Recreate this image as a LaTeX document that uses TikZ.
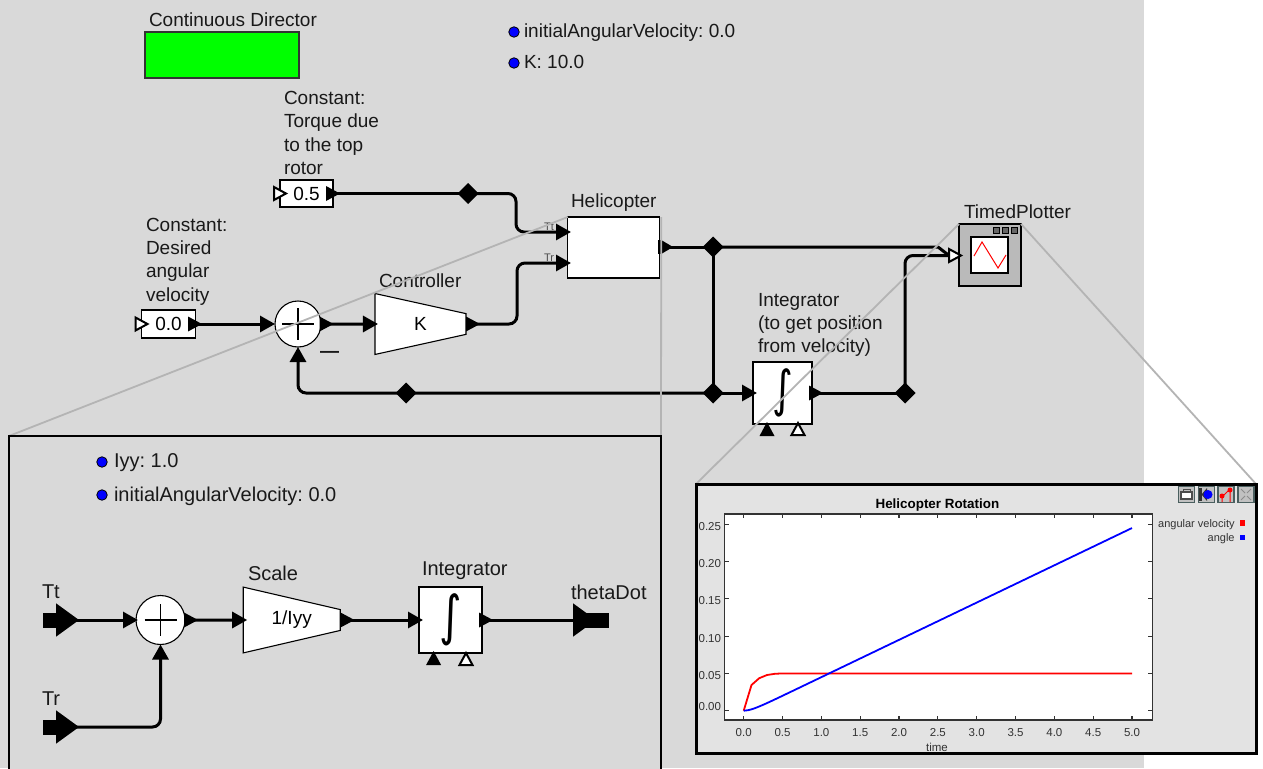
\documentclass[tikz,border=0pt]{standalone}
\usepackage{fontspec}
\setmainfont{Liberation Sans}
\newfontfamily\intfont{DejaVu Sans}
\usepackage{amsmath}
\usetikzlibrary{arrows.meta, positioning, shapes.geometric, calc}

\definecolor{canvasgray}{HTML}{D9D9D9}
\definecolor{plotgray}{HTML}{E3E3E3}
\definecolor{zoomgray}{HTML}{B4B4B4}
\definecolor{iconedge}{HTML}{4A5F5F}
\definecolor{tickgray}{HTML}{333333}
\frenchspacing

\begin{document}
\begin{tikzpicture}[
    x=1pt, y=-1pt,
    every node/.style={inner sep=0pt, outer sep=0pt},
    lbl/.style={anchor=west, align=left, font=\fontsize{19}{23.3}\selectfont, text=black!90},
    insetlbl/.style={lbl, font=\fontsize{20}{24}\selectfont},
    param/.style={circle, draw=black, fill=blue, minimum size=10.5, line width=0.8},
    block/.style={rectangle, draw, fill=white, line width=1.1, font=\fontsize{19}{23}\selectfont},
    sum/.style={circle, draw, fill=white, line width=1.1, minimum size=#1,
        path picture={\draw[line width=1.3] ($(path picture bounding box.center)+(-16,0)$) -- ++(32,0)
            ($(path picture bounding box.center)+(0,-16)$) -- ++(0,32);}},
    gain/.style={trapezium, draw, fill=white, line width=1.1, shape border rotate=270,
        trapezium stretches=true, font=\fontsize{19}{23}\selectfont},
    relation/.style={diamond, fill=black, minimum size=21},
    portfill/.style={isosceles triangle, isosceles triangle stretches, fill=black, minimum width=15, minimum height=14, anchor=lower side},
    portopen/.style={isosceles triangle, isosceles triangle stretches, draw=black, fill=white, line width=2, minimum width=13, minimum height=12, anchor=lower side},
    bigport/.style={isosceles triangle, isosceles triangle apex angle=72, fill=black, minimum size=23, anchor=lower side},
    intosym/.style={xscale=0.8, font=\intfont\fontsize{50}{54}\selectfont},
    wire/.style={-{Triangle[length=15pt, width=16pt]}, line width=3, rounded corners=8pt},
    line/.style={line width=3, rounded corners=8pt},
    zoomline/.style={draw=zoomgray, line width=1.8},
    tick/.style={line width=1.1, draw=tickgray},
    ticklbl/.style={font=\fontsize{11.5}{13}\selectfont, text=tickgray},
    iconbtn/.style={rectangle, draw=iconedge, fill=plotgray!85!black, line width=1.2, minimum size=16}
]
\clip (0,0) rectangle (1263,768);
\fill[white] (0,0) rectangle (1263,768);
\fill[canvasgray] (0,0) rectangle (1144,768);

% Director and parameters
\node[rectangle, draw=black!80, fill=green, line width=1.1, minimum width=154, minimum height=46] (director) at (222,55) {};
\node[lbl] (directorlbl) at (149,20) {Continuous Director};
\node[param] (omegadot) at (514,32) {};
\node[lbl] (omegalbl) at (524,33) {initialAngularVelocity: 0.0};
\node[param] (kdot) at (514,63) {};
\node[lbl] (klbl) at (524,62) {K: 10.0};

% Blocks - Top level
\node[lbl] (torquelbl) at (284,133) {Constant:\\Torque due\\to the top\\rotor};
\node[block, minimum width=53, minimum height=27] (torque) at (306.5,193.5) {0.5};
\node[portopen] (torquein) at (274,193.5) {};
\node[portfill] (torqueout) at (326,193.5) {};
\node[lbl] (desiredlbl) at (146,261.5) {Constant:\\Desired\\angular\\velocity};
\node[block, minimum width=54, minimum height=28] (desired) at (168.5,324) {0.0};
\node[portopen] (desiredin) at (135.5,324) {};
\node[portfill] (desiredout) at (188,324) {};
\node[sum=46] (error) at (298,324) {};
\node[portfill] (errorout) at (319.5,324) {};
\node[lbl, font=\bfseries\fontsize{19}{19}\selectfont] (minus) at (320,354) {—};
\node[lbl] (controllerlbl) at (379,281) {Controller};
\node[gain, minimum width=61, minimum height=91, trapezium left angle=45, trapezium right angle=45] (controller) at (420.5,324) {K};
\node[portfill] (controllerout) at (466,324) {};
\node[lbl] (helicopterlbl) at (571,203) {Helicopter};
\node[block, minimum width=91.5, minimum height=61] (helicopter) at (613.5,247.5) {};
\node[font=\fontsize{11}{12}\selectfont, text=black!70] (ttlbl) at (549,227) {Tt};
\node[font=\fontsize{11}{12}\selectfont, text=black!70] (trlbl) at (549,258) {Tr};
\node[rectangle, fill=black, minimum width=3, minimum height=14] (heliport) at (659,247) {};
\node[portfill, minimum width=13, minimum height=11] (heliout) at (662,247) {};
\node[lbl] (integratorlbl) at (758,325) {Integrator\\(to get position\\from velocity)};
\node[block, minimum width=59, minimum height=62] (position) at (782.5,393) {};
\node[intosym] (positionint) at (783,393) {∫};
\node[portfill] (positionout) at (809,393) {};
\node[portfill, shape border rotate=90] (positionctl) at (767,436) {};
\node[portopen, shape border rotate=90] (positionrst) at (798,435) {};
\node[lbl] (plotterlbl) at (964,212) {TimedPlotter};
\node[rectangle, draw, fill=black!27, line width=1.1, minimum width=62, minimum height=62] (plotter) at (990,255) {};
\node[rectangle, draw, fill=white, line width=1.1, minimum width=37, minimum height=36] (plotterscreen) at (989.5,255) {};
\draw[red, line width=1] (974,256) -- (982,242) -- (998,268) -- (1006,255);
\foreach \px in {996,1005,1014} {
    \draw[fill=black!60, line width=0.8] ($(\px,230)+(-3,-3)$) rectangle ++(6,6);
}
\node[portopen] (plotterin) at (949,255.5) {};

% Relations
\node[relation] (torquerel) at (468,193.5) {};
\node[relation] (feedbackrel) at (406,393) {};
\node[relation] (speedrel) at (713,247) {};
\node[relation] (branchrel) at (713,393) {};
\node[relation] (anglerel) at (905,393) {};

% Arrows - Top level
\coordinate (ttin) at (571,232);
\coordinate (trin) at (571,263);
\coordinate (branchin) at (757,393);
\draw[line] (torqueout.center) -- (torquerel.center);
\draw[wire] (torquerel.center) -- ++(48,0) |- (ttin);
\draw[wire] (desiredout.center) -- (error.west);
\draw[wire] (errorout.center) -- ($(controller.west)+(3,0)$);
\draw[wire] (controllerout.lower side) -- ++(51,0) |- (trin);
\draw[line] (heliout.center) -- (speedrel.center);
\draw[line width=3] (speedrel.center) -- ++(225,0) -- (plotterin.west);
\draw[line width=3] (speedrel.center) -- (branchrel.center);
\draw[wire] (branchrel.center) -- (branchin);
\draw[wire] (branchrel.center) -| (error.south);
\draw[line] (positionout.center) -- (anglerel.center);
\draw[line] (anglerel.center) |- (plotterin.west);

% Zoom lines
\draw[zoomline] (helicopter.north west) -- (9,436);
\draw[zoomline] (helicopter.north east) ++(2,0) -- (661,436);
\draw[zoomline] (plotter.north west) -- (696,484);
\draw[zoomline] (plotter.north east) -- (1256,484);

% Helicopter inset
\node[rectangle, draw=black, fill=canvasgray, line width=2, minimum width=652, minimum height=360, anchor=north west] (heliinset) at (9,436) {};
\node[param] (iyydot) at (102,462) {};
\node[insetlbl] (iyylbl) at (114,463) {Iyy: 1.0};
\node[param] (initdot) at (102,495) {};
\node[insetlbl] (initlbl) at (114,496) {initialAngularVelocity: 0.0};
\node[insetlbl] (ttname) at (42,592) {Tt};
\node[insetlbl] (trname) at (42,699) {Tr};
\node[insetlbl] (scalelbl) at (248,573) {Scale};
\node[insetlbl] (integlbl) at (422,571) {Integrator};
\node[insetlbl] (thetalbl) at (571,592) {thetaDot};

% Inset blocks
\foreach \pname/\py in {ttport/620, trport/727} {
    \fill ($(43,\py)+(0,-7.5)$) rectangle ++(16,15);
    \node[bigport] (\pname) at (56,\py) {};
}
\node[sum=49] (insetsum) at (160.5,620) {};
\node[portfill] (insetsumout) at (184,620) {};
\node[gain, minimum width=66, minimum height=97, trapezium left angle=42, trapezium right angle=42] (scale) at (291.7,620) {\phantom{K}};
\node[font=\fontsize{19}{23}\selectfont] (scaletext) at (291.7,620) {1/Iyy};
\node[portfill] (scaleout) at (340.5,620) {};
\node[block, minimum width=63, minimum height=66] (integrator) at (450.5,620) {};
\node[intosym, font=\intfont\fontsize{54}{58}\selectfont] (integratorint) at (451,620) {∫};
\node[portfill] (integratorout) at (479,620) {};
\node[portfill, shape border rotate=90] (integctl) at (433.6,665) {};
\node[portopen, shape border rotate=90] (integrst) at (466,665) {};
\fill (585,612.5) rectangle (609,627.5);
\node[bigport] (thetaport) at (573,620) {};

% Inset arrows
\draw[wire] (ttport.center) -- ($(insetsum.west)+(2,0)$);
\draw[wire] (insetsumout.center) -- ($(scale.west)+(4,0)$);
\draw[wire] (scaleout.center) -- ($(integrator.west)+(4,0)$);
\draw[line] (integratorout.center) -- (thetaport.lower side);
\draw[wire] (trport.center) -| (insetsum.south);

% Plotter inset
\node[rectangle, draw=black, fill=plotgray, line width=3, minimum width=560, minimum height=269, anchor=north west] (plotinset) at (696,484) {};
\node[rectangle, draw=tickgray, fill=white, line width=1.2, minimum width=427.5, minimum height=206, anchor=north west] (plotarea) at (724.7,514) {};
\node[font=\bfseries\fontsize{13.4}{15}\selectfont] (plottitle) at (937.4,505) {Helicopter Rotation};
\foreach \tx in {0.0,0.5,1.0,1.5,2.0,2.5,3.0,3.5,4.0,4.5,5.0} {
    \draw[tick] ($(743.7,514)+(\tx*77.66,0)$) -- ++(0,4);
    \draw[tick] ($(743.7,720)+(\tx*77.66,0)$) -- ++(0,-4);
    \node[ticklbl] at ($(743.7,733)+(\tx*77.66,0)$) {\tx};
}
\foreach \ty/\dy in {0.00/-4, 0.05/2, 0.10/2, 0.15/2, 0.20/2, 0.25/2} {
    \draw[tick] ($(724.7,710.7)+(0,-\ty*745.6)$) -- ++(4,0);
    \draw[tick] ($(1152.2,710.7)+(0,-\ty*745.6)$) -- ++(-4,0);
    \node[ticklbl, anchor=east] at ($(721,710.7)+(0,-\ty*745.6+\dy)$) {\ty};
}
\node[ticklbl] (timelbl) at (937,747) {time};
\draw[red, line width=1.8] plot coordinates {(743.7,710.7) (751.5,685) (759.2,678.2) (767,675) (774.8,673.8) (782.6,673.4) (1132,673.4)};
\draw[blue, line width=1.8] plot[domain=0:5, samples=80, smooth] ({743.7+\x*77.66}, {710.7-(0.05*\x-0.005*(1-exp(-10*\x)))*745.6});
\node[ticklbl, font=\fontsize{11}{13}\selectfont, anchor=east] (velocitylbl) at (1234.6,524.7) {angular velocity};
\node[ticklbl, font=\fontsize{11}{13}\selectfont, anchor=east] (anglelbl) at (1234.6,539) {angle};
\node[rectangle, fill=red, minimum size=5.5] (velocitykey) at (1242.7,523) {};
\node[rectangle, fill=blue, minimum size=5.5] (anglekey) at (1242.7,537.5) {};

% Plot buttons
\node[iconbtn] (printbtn) at (1186.5,494.5) {};
\draw[line width=1.2, fill=white, draw=black!70] (1181,492) rectangle (1192,499);
\draw[line width=1, draw=black!70] (1183,492) -- (1183,489) -- (1190,489) -- (1190,492);
\node[iconbtn] (resetbtn) at (1206.5,494.5) {};
\fill[black!80] (1199,488) rectangle (1201.5,501);
\fill[black!80] (1201.5,494.5) -- (1207,488) -- (1207,501) -- cycle;
\fill[blue] (1208,494.5) circle (4.5);
\node[iconbtn] (fillbtn) at (1226,494.5) {};
\draw[red, line width=1] (1222,497) -- (1222,502) (1222,497) -- (1230,489) -- (1230,502);
\fill[red] (1222,496) circle (2.5) (1230,490) circle (2.5);
\node[iconbtn] (fitbtn) at (1246,494.5) {};
\draw[draw=black!45, line width=1] (1241,489) -- (1245,493) (1251,489) -- (1247,493) (1241,500) -- (1245,496) (1251,500) -- (1247,496);

\end{tikzpicture}
\end{document}
